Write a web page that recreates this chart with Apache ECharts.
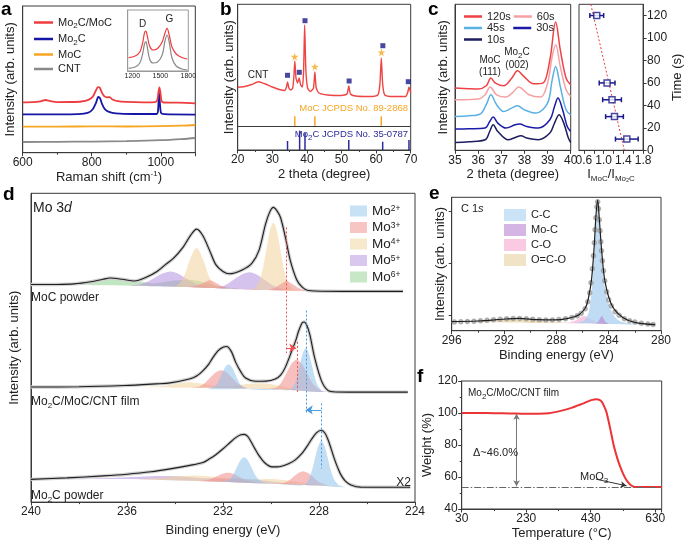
<!DOCTYPE html>
<html><head><meta charset="utf-8">
<script src="https://cdn.jsdelivr.net/npm/echarts@6/dist/echarts.min.js"></script>
<style>html,body{margin:0;padding:0;background:#fff}#c{width:685px;height:543px}</style>
</head><body><div id="c"></div><script>
// ---------------- DATA ----------------
// (a) Raman
const ramanMo2CMoC = [[600,50.4],[630,50.6],[652,51.4],[666,52.7],[680,51.5],[700,50.6],[740,50.7],[770,51.2],[790,52.8],[803,56],[811,61.5],[818,65.6],[823,65.2],[829,60.5],[836,56.5],[845,55.4],[852,55.6],[860,53.2],[875,51.5],[900,50.8],[950,50.4],[984,50.6],[990,53],[993,60],[996,65.4],[999,60],[1002,52],[1008,50.2],[1050,50],[1100,49.4]];
const ramanMo2C = [[600,38.4],[700,38.4],[760,38.6],[790,40],[803,43.5],[812,49.5],[819,55.7],[824,54.5],[830,48.5],[838,43.5],[850,40.8],[870,39.3],[920,38.7],[988,38.7],[992,42],[995,60.4],[998,47],[1001,39.5],[1010,38.5],[1100,38.1]];
const ramanMoC = [[600,26],[700,26.1],[800,26.3],[900,26.2],[1000,26.5],[1060,27],[1100,27.7]];
const ramanCNT = [[600,10.7],[700,10.9],[800,11.1],[900,11.6],[1000,12.5],[1060,13.6],[1100,14.7]];
const insetRed = [[1160,13.3],[1230,15],[1280,19],[1310,28],[1330,38],[1345,40],[1360,35],[1385,25],[1420,21],[1470,22.5],[1520,29],[1550,38],[1572,42.7],[1595,36],[1625,24],[1670,17],[1730,13.5],[1790,12]];
const insetGray = [[1160,2.7],[1230,4],[1280,8],[1310,17],[1330,27],[1345,29.3],[1360,24],[1385,12],[1420,8],[1470,9],[1520,16],[1550,30],[1572,36],[1595,29],[1625,13],[1670,5],[1730,2],[1790,1]];
// (b) XRD
const xrdCurve = [[20,62.7],[22,63.5],[24,65.5],[26,68.3],[28,66],[30,63],[32,60.5],[33.6,59.5],[34.1,63],[34.4,68],[34.8,62],[35.3,60],[35.9,62],[36.25,74],[36.5,89],[36.85,72],[37.3,67],[37.75,72],[38.2,65],[38.7,63],[39.05,80],[39.35,125],[39.7,80],[40.2,62],[41,58.5],[41.9,62],[42.3,78],[42.7,62],[43.5,57],[46,55],[50,54.5],[51.6,56],[52.1,64],[52.6,56],[54,54],[58,53.5],[60.5,55],[61.1,66],[61.5,92],[61.9,66],[62.5,55],[65,53.5],[68.5,53.5],[69.1,57],[69.5,63],[70,57]];
const xrdMo2CMarks = [[34.4,74.7],[37.8,77.7],[39.45,129.3],[52.2,69],[61.95,104.3],[69.3,68.3]];
const xrdMoCStars = [[36.47,93.3],[42.3,83.3],[61.55,97.7]];
const refMoC = [[36.5,24,33.7],[42.3,24,33.7],[61.5,24,33.7]];
const refMo2C = [[34.4,0,9],[37.9,0,19.3],[39.45,0,17.5],[52.1,0,10],[61.9,0,8.3],[69.5,0,10]];
// (c) in-situ XRD
const xrd120 = [[35,62.2],[35.6,61.5],[36.0,61.2],[36.35,64.5],[36.55,72.2],[36.75,67.2],[37.1,64.5],[37.45,72],[37.7,79.5],[37.95,74.5],[38.4,66.5],[38.8,67.2],[39.1,90.5],[39.35,128.2],[39.55,100.5],[39.8,72.2],[40,65.5]];
const xrd60 = [[35,50.5],[35.6,50.8],[36.0,51.2],[36.3,55.5],[36.52,63.2],[36.8,55.5],[37.2,53.2],[37.5,58],[37.75,63.2],[38.2,55.5],[38.7,53.2],[39.0,67.2],[39.2,93.8],[39.35,105.5],[39.55,83.8],[39.8,60.5],[40,53.8]];
const xrd45 = [[35,33.8],[35.6,34.5],[36.1,36.5],[36.38,47.2],[36.55,55.5],[36.8,45.5],[37.1,38.8],[37.45,42.2],[37.7,44.5],[38.0,40.5],[38.5,37.2],[39.0,47.2],[39.2,70.5],[39.35,83.8],[39.55,63.8],[39.8,40.5],[40,35.5]];
const xrd30 = [[35,21.2],[35.6,21.5],[36.3,22.2],[36.5,28.8],[36.65,33.2],[36.85,27.2],[37.2,22.2],[37.6,25.5],[37.8,26.2],[38.1,23.8],[38.6,22.2],[39.1,30.5],[39.3,43.8],[39.45,52.2],[39.65,40.5],[39.85,23.8],[40,18.8]];
const xrd10 = [[35,7.8],[35.6,8.5],[36.3,10.5],[36.5,18.8],[36.65,25.5],[36.85,18.8],[37.3,10.5],[37.6,12.8],[37.85,14.5],[38.1,12.2],[38.6,10.5],[39.1,17.2],[39.3,27.2],[39.5,35.5],[39.7,27.2],[39.9,12.2],[40,7.8]];
const ratioTime = [[0.86,120,0.14],[1.07,60,0.16],[1.17,45,0.19],[1.22,30,0.18],[1.47,10,0.23]];
const ratioFit = [[0.74,130],[1.42,0]];
// (d) Mo 3d XPS
const bgMoC = [[240,222.6],[237,222],[235,221],[233.5,220],[232,218.5],[230.5,217.2],[229.3,216.2],[228.5,215.8],[224.5,215.6]];
const envMoC = [[240,222.6],[239,222.7],[238.2,223.3],[237.5,225.5],[237.0,228],[236.7,229.3],[236.2,228],[235.7,226.2],[235.2,230],[234.75,236],[234.4,243],[234.07,249.3],[233.66,261],[233.35,273],[233.1,279.3],[232.85,273],[232.56,257.6],[232.3,243],[232.0,236],[231.74,233.6],[231.2,237.6],[230.8,244.3],[230.5,257.6],[230.23,284.3],[230.05,297],[229.9,301.6],[229.75,298],[229.6,291],[229.4,271],[229.2,247.6],[228.93,227.6],[228.7,220],[228.45,216.5],[227,215.6],[224.5,215.6]];
const moC_Mo4 = [[234.3,220.2],[234.1,220.4],[233.85,222.8],[233.6,232.5],[233.35,250],[233.1,260.3],[232.85,249.6],[232.6,232],[232.35,222],[232.1,219],[231.5,218],[230.9,217.6],[230.7,218.7],[230.5,225.5],[230.35,238],[230.2,257.5],[230.05,277.5],[229.9,286],[229.75,277],[229.6,257],[229.45,237.3],[229.3,224.8],[229.1,218.2],[228.9,216]];
const moC_Mo3 = [[233.5,220],[233.1,221.5],[232.8,224.5],[232.55,227],[232.3,224.5],[232.0,220.5],[231.6,218],[230.2,217],[229.9,218.5],[229.6,223],[229.35,226.2],[229.1,223],[228.8,218.5],[228.5,216]];
const moC_Mo5 = [[236.0,221.3],[235.7,221.9],[235.4,223.3],[235.1,226],[234.8,230.3],[234.5,234.1],[234.2,236],[233.9,234.1],[233.6,229.8],[233.3,225.5],[233.0,222.3],[232.7,220.3],[232.4,219.5],[232.1,220.3],[231.8,223.4],[231.5,228.5],[231.2,233.2],[230.9,235.3],[230.6,233],[230.3,228],[230.0,223],[229.7,219.5],[229.4,217]];
const moC_Mo6 = [[239,222.5],[238.4,223.2],[237.8,225],[237.2,227.5],[236.6,229.3],[236.0,228],[235.4,225.5],[234.9,224],[234.4,225.5],[233.9,227],[233.45,227.6],[233.0,226.2],[232.5,223],[231.9,219.8],[231.3,218]];
const bgFilm = [[240,117.8],[236,117.6],[233,117],[230.6,116],[229,114.5],[228.2,113],[227.5,112.6],[224.3,112.5]];
const envFilm = [[240,117.8],[238,118],[236.1,119.3],[234.8,121],[234.2,122],[233.4,126],[233.1,129],[232.84,134.3],[232.6,141],[232.43,147.6],[232.2,155],[232.0,158.5],[231.85,159.3],[231.65,154],[231.47,143],[231.25,133],[231.06,127],[230.65,123.6],[230.2,123.8],[229.82,126],[229.6,130],[229.41,137.6],[229.14,154.3],[228.96,166],[228.86,174.3],[228.7,183.5],[228.62,184.3],[228.5,180.5],[228.38,171],[228.18,147.6],[227.9,124.3],[227.63,114.3],[227.3,112.7],[226,112.5],[224.3,112.5]];
const film_Mo2 = [[232.6,115.8],[232.33,118.8],[232.19,123.5],[232.05,131],[231.91,137.9],[231.77,141],[231.63,137.9],[231.49,131],[231.35,123.5],[231.21,118.8],[230.9,115.6],[229.5,114.6],[229.25,114.4],[229.05,119.4],[228.925,127.6],[228.8,140.3],[228.675,152.2],[228.55,157.6],[228.425,152.2],[228.3,140.3],[228.175,127.6],[228.05,119.4],[227.85,113.8],[227.6,112.6]];
const film_Mo3 = [[233.3,116.6],[232.98,118.3],[232.755,121.9],[232.53,127.5],[232.305,132.7],[232.08,135],[231.855,132.7],[231.63,127.5],[231.405,121.9],[231.18,118.3],[230.9,116.3],[230.3,115.9],[230.03,116.3],[229.73,118.1],[229.53,124],[229.33,133.3],[229.13,142],[228.93,146],[228.73,142],[228.53,133.3],[228.33,124],[228.13,118.1],[227.85,113.5],[227.6,112.6]];
const film_Mo4 = [[235.2,117.6],[234.5,118.7],[233.9,121],[233.45,122.6],[233.0,121.5],[232.4,119.2],[231.7,118.4],[231.1,120.5],[230.6,121.6],[230.2,121.4],[229.6,118.8],[229.0,115.3],[228.5,113.5]];
const bgMo2C = [[240,23.3],[236.1,23.6],[233,21.5],[230.5,19.3],[228,17],[227.2,15.4],[224.2,15.3]];
const envMo2C = [[240,23.3],[238.5,24.8],[237,26.8],[236,28.5],[235,31],[234.2,34],[233.38,37.6],[232.84,40.5],[232.56,44.3],[232.3,48.5],[232.01,54.3],[231.75,60],[231.47,66],[231.25,69],[231.12,69.3],[230.98,67.5],[230.85,62.6],[230.68,55],[230.5,47.6],[230.25,40],[229.96,36],[229.6,36.5],[229.27,39.3],[229.0,43],[228.73,49.3],[228.5,57],[228.31,64.3],[228.1,71],[227.9,73.6],[227.75,70.5],[227.63,64.3],[227.5,55],[227.36,44.3],[227.2,34],[227.08,27.6],[226.9,21.5],[226.67,17.6],[226.26,15.3],[225,15.2],[224.2,15.2]];
const mo2C_Mo2 = [[232.1,20.9],[231.97,21.2],[231.72,23.3],[231.57,28.2],[231.42,35.8],[231.27,42.9],[231.12,46],[230.97,42.9],[230.82,35.8],[230.67,28.2],[230.52,23.3],[230.27,19.9],[229.5,18.3],[228.65,17.3],[228.45,22.3],[228.3,31.9],[228.17,44.6],[228.035,57],[227.9,62.6],[227.765,57],[227.63,44.6],[227.5,31.9],[227.35,22.3],[227.15,17],[226.9,15.4]];
const mo2C_Mo3 = [[233.0,21.5],[232.7,22.3],[232.475,23.9],[232.25,26.4],[232.025,28.9],[231.8,30],[231.575,28.9],[231.35,26.3],[231.125,23.5],[230.9,21.6],[230.6,19.8],[229.76,18.8],[229.46,19.8],[229.26,22.2],[229.06,26],[228.86,29.7],[228.66,31.6],[228.46,29.7],[228.26,25.9],[228.06,21.7],[227.86,19],[227.56,16.3],[227.2,15.4]];
const mo2C_Mo4 = [[235.5,23.4],[234.6,25],[233.8,26.6],[233.1,27.3],[232.4,26],[231.7,24],[231.0,23.3],[230.4,23.5],[229.9,23.6],[229.3,22],[228.6,19.3],[227.9,17.2],[227.3,15.5]];
const mo2C_Mo5 = [[238.5,23.5],[237.5,24.2],[236.5,25],[235.5,26],[234.5,26.6],[233.5,25.8],[232.6,24.3],[231.9,24],[231.3,24],[230.6,22.8],[229.8,20.5],[229,18.5],[228.2,17]];
const shiftRed = [[229.37,281,152.6],[228.9,164,111]];
const shiftBlue = [[228.52,196,91],[227.9,101,34.3]];
const arrowRed = [229.37,228.95,157.6];
const arrowBlue = [227.9,228.55,94.3];
// (e) C 1s XPS
const bgC1s = [[296,8],[290,7.8],[286.3,7.4],[284,6.8],[282,6.2],[280.4,5.8]];
const envC1s = [[296,9],[294,9.7],[291.9,11.7],[290.9,12.4],[289.4,11],[288.1,10.8],[287.1,12.4],[286.3,15.7],[285.8,22.4],[285.55,32.4],[285.3,52.4],[285.1,85.7],[284.97,115.7],[284.84,130.7],[284.72,112.4],[284.53,79],[284.28,49],[283.77,25.7],[283.0,14],[282.0,8.4],[280.46,6]];
const rawC1s = [[295.8,8.7],[295.3,8.9],[294.8,9.2],[294.3,9.5],[293.8,9.9],[293.3,10.4],[292.8,10.9],[292.3,11.4],[291.8,11.9],[291.3,12.2],[290.8,12.3],[290.3,12],[289.8,11.4],[289.3,11],[288.8,10.7],[288.3,10.8],[287.8,11.2],[287.3,12],[286.8,13.2],[286.4,15],[286.1,17.5],[285.8,22],[285.6,29],[285.45,38],[285.35,48],[285.25,62],[285.17,75],[285.1,88],[285.04,101],[284.98,113],[284.9,124],[284.84,129],[284.78,122],[284.72,111],[284.66,100],[284.6,89],[284.55,80],[284.48,70],[284.4,60],[284.3,50],[284.15,39],[284.0,31],[283.8,25],[283.5,19],[283.2,15.5],[282.8,12],[282.4,10],[282.0,8.8],[281.5,7.5],[281.0,6.6],[280.6,6.2]];
const c1s_CC = [[286.6,7.5],[286.0,9.5],[285.7,13],[285.5,20],[285.3,40],[285.1,75],[284.97,108],[284.84,126],[284.72,108],[284.53,72],[284.28,42],[284.0,27],[283.77,19],[283.4,12],[283.0,9],[282.0,7],[281.0,6]];
const c1s_MoC = [[285.0,7.1],[284.8,9],[284.65,12.5],[284.53,14.7],[284.4,12.5],[284.25,9],[284.0,7]];
const c1s_CO = [[287.5,7.5],[287.0,8.3],[286.5,10.5],[286.2,13],[285.9,14.7],[285.6,13.5],[285.3,11],[284.9,8.5],[284.5,7.1]];
const c1s_OCO = [[296,8.6],[294.5,9.3],[293,10.5],[292,11.2],[291,11.4],[290,11],[289,9.8],[288,8.7],[287,7.8]];
// (f) TGA
const tga = [[30,100],[80,100],[130,99.9],[180,99.7],[230,99.5],[270,99.5],[300,99.8],[340,101.5],[370,103.2],[391,104.8],[410,106.2],[422,107.3],[435,108.2],[447,108.6],[457,108.2],[465,106.8],[472,104],[478,101],[483,97],[488,92.5],[494,86.7],[501,80],[509,74],[517,68.8],[525,64.6],[532,61.3],[540,58.3],[548,56.2],[556,54.7],[563,54],[571,53.7],[600,53.8],[650,53.8]];
const residue = 53.7;
const deltaArrow = [200,99.5,54.2];
const moO3Arrow = [[447,58.6],[541,54.5]];

// ---------------- HELPERS ----------------
const F = '"Liberation Sans", Arial, Helvetica, sans-serif';
const AX = '#3a3a3a';
const RICH = {
  sub:{fontSize:8, verticalAlign:'bottom', lineHeight:15, fontFamily:F},
  sup:{fontSize:8, verticalAlign:'top', lineHeight:15, fontFamily:F},
  it:{fontStyle:'italic', fontFamily:F}
};
const plain = v => String(Math.round(v*1000)/1000);
function merge(a,b){const r=Object.assign({},a);for(const k in b){const v=b[k];if(v&&typeof v==='object'&&!Array.isArray(v)&&a[k]&&typeof a[k]==='object'&&!Array.isArray(a[k]))r[k]=merge(a[k],v);else r[k]=v;}return r;}
function xA(g,o){return merge({type:'value',gridIndex:g,position:'bottom',
  axisLine:{show:true,onZero:false,lineStyle:{color:AX,width:1}},
  axisTick:{show:true,length:3.5,lineStyle:{color:AX}},
  axisLabel:{show:true,fontSize:12,color:'#222',margin:4,fontFamily:F,formatter:plain},
  splitLine:{show:false},nameLocation:'middle',
  nameTextStyle:{fontSize:13,color:'#222',fontFamily:F,lineHeight:15,rich:RICH}},o);}
function yA(g,o){return merge({type:'value',gridIndex:g,
  axisLine:{show:true,onZero:false,lineStyle:{color:AX,width:1}},
  axisTick:{show:false},axisLabel:{show:false,formatter:plain},splitLine:{show:false},
  nameLocation:'middle',nameTextStyle:{fontSize:13,color:'#222',fontFamily:F}},o);}
function line(g,name,data,color,w,extra){return Object.assign({type:'line',name,xAxisIndex:g,yAxisIndex:g,data,
  smooth:0.35,showSymbol:false,symbol:'none',lineStyle:{color,width:w},itemStyle:{color},z:3,silent:true},extra||{});}
function area(g,name,top,base,color,op){
  const xs=top.map(p=>p[0]);const lo=Math.min(...xs),hi=Math.max(...xs);
  return {type:'custom',name,xAxisIndex:g,yAxisIndex:g,coordinateSystem:'cartesian2d',silent:true,z:2,
    itemStyle:{color,opacity:op},data:[[top[0][0],top[0][1]]],
    renderItem:(params,api)=>{
      const b=base.filter(p=>p[0]>lo&&p[0]<hi).sort((u,v)=>(u[0]-v[0])*(top[0][0]>top[top.length-1][0]?1:-1));
      const pts=top.map(p=>api.coord(p)).concat(b.map(p=>api.coord(p)));
      return {type:'polygon',shape:{points:pts,smooth:0.3},style:{fill:color,opacity:op}};
    }};
}
function sticks(g,data,color,w,extra){return Object.assign({type:'custom',xAxisIndex:g,yAxisIndex:g,coordinateSystem:'cartesian2d',silent:true,
  data,encode:{x:0,y:[1,2]},z:3,
  renderItem:(params,api)=>{const p0=api.coord([api.value(0),api.value(1)]),p1=api.coord([api.value(0),api.value(2)]);
    return {type:'line',shape:{x1:p0[0],y1:p0[1],x2:p1[0],y2:p1[1]},style:{stroke:color,lineWidth:w}};}},extra||{});}
function txt(x,y,text,o){return {type:'text',x,y,silent:true,z:50,style:Object.assign({text,fill:'#222',fontSize:12,fontFamily:F,align:'left',verticalAlign:'middle',rich:RICH},o||{})};}

// colours
const C = {red:'#ee3d3f',blue:'#1616a6',orange:'#f6a623',gray:'#8a8a8a',
  c120:'#ee4045',c60:'#f6a0a3',c45:'#5bb0e4',c30:'#1a1aa6',c10:'#1d1d60',
  mo2:'#8fc3ec',mo3:'#f28b8b',mo4:'#f0d49a',mo5:'#b48fe0',mo6:'#8fd08f',
  cc:'#a9d0f0',moc:'#b984d0',co:'#f5a6cf',oco:'#e8d0a0', navy:'#1a1a8a', xrdRed:'#ef4444'};
const STAR='path://M50,0 L61,35 L98,35 L68,57 L79,91 L50,70 L21,91 L32,57 L2,35 L39,35 Z';

// ---------------- GRIDS ----------------
const gridBox={show:true,borderColor:AX,borderWidth:1,containLabel:false};
const grids=[
  {left:22.7,top:6,width:172.6,height:146.7},
  {left:127.7,top:10,width:60.6,height:61,borderColor:'#999'},
  {left:237.7,top:4.3,width:173,height:145.7},
  {left:455,top:4.3,width:115.7,height:146},
  {left:579,top:4.3,width:77.7,height:146},
  {left:25.7,top:193.3,width:389.3,height:316},
  {left:451.7,top:197.3,width:209.3,height:133.4},
  {left:461.7,top:381,width:200,height:128}
].map(g=>Object.assign({},gridBox,g));

const xAxes=[
  xA(0,{min:600,max:1100,interval:200,minorTick:{show:true,splitNumber:2,length:2,lineStyle:{color:AX}},axisLabel:{showMaxLabel:false},name:'Raman shift (cm{sup|-1})',nameGap:17}),
  xA(1,{min:1150,max:1800,axisLine:{lineStyle:{color:'#999'}},axisTick:{show:false},axisLabel:{fontSize:7,margin:2,customValues:[1200,1500,1800]}}),
  xA(2,{min:20,max:70,interval:10,minorTick:{show:true,splitNumber:2,length:2,lineStyle:{color:AX}},name:'2 theta (degree)',nameGap:17}),
  xA(3,{min:35,max:40,interval:1,name:'2 theta (degree)',nameGap:17}),
  xA(4,{min:0.5,max:1.8,axisTick:{customValues:[0.6,0.8,1.0,1.2,1.4,1.6,1.8]},axisLabel:{customValues:[0.6,1.0,1.4,1.8],formatter:v=>v.toFixed(1)},
        name:'I{sub|MoC}/I{sub|Mo₂C}',nameGap:17}),
  xA(5,{min:224,max:240,interval:4,inverse:true,minorTick:{show:true,splitNumber:2,length:2,lineStyle:{color:AX}},name:'Binding energy (eV)',nameGap:17}),
  xA(6,{min:280,max:296,interval:4,inverse:true,minorTick:{show:true,splitNumber:2,length:2,lineStyle:{color:AX}},name:'Binding energy (eV)',nameGap:15}),
  xA(7,{min:30,max:650,interval:200,minorTick:{show:true,splitNumber:2,length:2,lineStyle:{color:AX}},name:'Temperature (°C)',nameGap:17})
];
const yAxes=[
  yA(0,{min:0,max:146.7,name:'Intensity (arb. units)',nameGap:6}),
  yA(1,{min:0,max:61,axisLine:{lineStyle:{color:'#999'}}}),
  yA(2,{min:0,max:145.7,name:'Intensity (arb. units)',nameGap:2}),
  yA(3,{min:0,max:146,name:'Intensity (arb. units)',nameGap:5}),
  yA(4,{min:0,max:130,interval:20,position:'right',axisTick:{show:true,length:3.5,lineStyle:{color:AX}},
        axisLabel:{show:true,fontSize:12,color:'#222',margin:4,fontFamily:F},name:'Time (s)',nameGap:24}),
  yA(5,{min:0,max:316,name:'Intensity (arb. units)',nameGap:10}),
  yA(6,{min:0,max:133.4,axisTick:{show:true,length:3,customValues:[15.8,67.4,119],lineStyle:{color:AX}},name:'Intensity (arb. units)',nameGap:5}),
  yA(7,{min:40,max:120,interval:20,axisTick:{show:true,length:3.5,lineStyle:{color:AX}},minorTick:{show:true,splitNumber:2,length:2,lineStyle:{color:AX}},
        axisLabel:{show:true,fontSize:12,color:'#222',margin:4,fontFamily:F},name:'Weight (%)',nameGap:24})
];

// ---------------- SERIES ----------------
const series=[];
// (a)
series.push(line(0,'CNT',ramanCNT,C.gray,1.8));
series.push(line(0,'MoC',ramanMoC,C.orange,1.8));
series.push(line(0,'Mo2C',ramanMo2C,C.blue,1.8,{smooth:0.25}));
series.push(line(0,'Mo2C/MoC',ramanMo2CMoC,C.red,1.8,{smooth:0.25}));
series.push(line(1,'insetGray',insetGray,C.gray,1.2));
series.push(line(1,'insetRed',insetRed,C.red,1.2));
// (b)
series.push(line(2,'xrd',xrdCurve,C.xrdRed,1.4,{smooth:0.2}));
series.push({type:'scatter',xAxisIndex:2,yAxisIndex:2,data:xrdMo2CMarks,symbol:'rect',symbolSize:5,itemStyle:{color:C.navy},silent:true,z:4});
series.push({type:'scatter',xAxisIndex:2,yAxisIndex:2,data:xrdMoCStars,symbol:STAR,symbolSize:8,itemStyle:{color:C.orange},silent:true,z:4});
series.push(sticks(2,refMoC,C.orange,1.5,{markLine:{silent:true,symbol:'none',label:{show:false},lineStyle:{color:AX,width:1,type:'solid'},data:[{yAxis:24}]}}));
series.push(sticks(2,refMo2C,'#2b2b9b',1.5));
// (c)
series.push(line(3,'10s',xrd10,C.c10,1.5));
series.push(line(3,'30s',xrd30,C.c30,1.5));
series.push(line(3,'45s',xrd45,C.c45,1.5));
series.push(line(3,'60s',xrd60,C.c60,1.5));
series.push(line(3,'120s',xrd120,C.c120,1.5));
series.push(line(4,'fit',ratioFit,C.red,1,{smooth:false,lineStyle:{color:C.red,width:1,type:[2,2]}}));
series.push({type:'custom',xAxisIndex:4,yAxisIndex:4,coordinateSystem:'cartesian2d',silent:true,data:ratioTime,encode:{x:0,y:1},z:4,
  renderItem:(params,api)=>{const x=api.value(0),y=api.value(1),e=api.value(2);
    const a=api.coord([x-e,y]),b=api.coord([x+e,y]);const h=2.5;
    return {type:'group',children:[
      {type:'line',shape:{x1:a[0],y1:a[1],x2:b[0],y2:b[1]},style:{stroke:C.navy,lineWidth:1.5}},
      {type:'line',shape:{x1:a[0],y1:a[1]-h,x2:a[0],y2:a[1]+h},style:{stroke:C.navy,lineWidth:1.5}},
      {type:'line',shape:{x1:b[0],y1:b[1]-h,x2:b[0],y2:b[1]+h},style:{stroke:C.navy,lineWidth:1.5}}]};}});
series.push({type:'scatter',xAxisIndex:4,yAxisIndex:4,data:ratioTime.map(p=>[p[0],p[1]]),symbol:'rect',symbolSize:6,
  itemStyle:{color:'#fff',borderColor:C.navy,borderWidth:1.5},silent:true,z:5});
// (d) components
const dSets=[
  [bgMoC,[['Mo6+',moC_Mo6,C.mo6],['Mo5+',moC_Mo5,C.mo5],['Mo4+',moC_Mo4,C.mo4],['Mo3+',moC_Mo3,C.mo3]]],
  [bgFilm,[['Mo4+',film_Mo4,C.mo4],['Mo3+',film_Mo3,C.mo3],['Mo2+',film_Mo2,C.mo2]]],
  [bgMo2C,[['Mo5+',mo2C_Mo5,C.mo5],['Mo4+',mo2C_Mo4,C.mo4],['Mo3+',mo2C_Mo3,C.mo3],['Mo2+',mo2C_Mo2,C.mo2]]]
];
dSets.forEach(([bg,comps])=>comps.forEach(([n,d,c])=>series.push(area(5,n,d,bg,c,0.55))));
[envMoC,envFilm,envMo2C].forEach((env,i)=>{
  series.push(line(5,'raw'+i,env,'#cfcfcf',3.4,{smooth:0.3,z:3}));
  series.push(line(5,'env'+i,env,'#1e1e1e',1.1,{smooth:0.3,z:4}));
});
// (d) shift guide lines and arrows
const dML={silent:true,label:{show:false},symbol:'none',data:[]};
shiftRed.forEach(s=>dML.data.push([{coord:[s[0],s[1]],lineStyle:{color:'#f05050',type:[2,2],width:1}},{coord:[s[0],s[2]]}]));
shiftBlue.forEach(s=>dML.data.push([{coord:[s[0],s[1]],lineStyle:{color:'#4a9be0',type:[2,2],width:1}},{coord:[s[0],s[2]]}]));
dML.data.push([{coord:[arrowRed[0],arrowRed[2]],symbol:'none',lineStyle:{color:'#f05050',type:'solid',width:1}},{coord:[arrowRed[1],arrowRed[2]],symbol:'arrow',symbolSize:[7,7]}]);
dML.data.push([{coord:[arrowBlue[0],arrowBlue[2]],symbol:'none',lineStyle:{color:'#4a9be0',type:'solid',width:1}},{coord:[arrowBlue[1],arrowBlue[2]],symbol:'arrow',symbolSize:[7,7]}]);
series.push({type:'line',xAxisIndex:5,yAxisIndex:5,data:[],silent:true,markLine:dML,z:6});
// (e)
series.push(area(6,'O=C-O',c1s_OCO,bgC1s,C.oco,0.7));
series.push(area(6,'C-O',c1s_CO,bgC1s,C.co,0.6));
series.push(area(6,'C-C',c1s_CC,bgC1s,C.cc,0.75));
series.push(area(6,'Mo-C',c1s_MoC,bgC1s,C.moc,0.6));
series.push({type:'scatter',xAxisIndex:6,yAxisIndex:6,data:rawC1s,symbol:'emptyCircle',symbolSize:3.5,
  itemStyle:{color:'#9a9a9a',borderColor:'#9a9a9a',borderWidth:0.8},silent:true,z:3});
series.push(line(6,'envC',envC1s,'#1e1e1e',1.2,{smooth:0.3,z:4}));
// (f)
series.push(line(7,'tga',tga,'#ec3336',2,{smooth:0.3,z:4,markLine:{silent:true,label:{show:false},symbol:'none',data:[
  [{coord:[30,residue],lineStyle:{color:'#666',type:[7,2,1.5,2],width:1}},{coord:[650,residue]}],
  [{coord:[deltaArrow[0],deltaArrow[1]],symbol:'arrow',symbolSize:[5,6],lineStyle:{color:'#777',type:'solid',width:1}},{coord:[deltaArrow[0],deltaArrow[2]],symbol:'arrow',symbolSize:[5,6]}],
  [{coord:moO3Arrow[0],symbol:'none',lineStyle:{color:'#333',type:'solid',width:1}},{coord:moO3Arrow[1],symbol:'arrow',symbolSize:[5,6]}]
]}}));

// ---------------- LEGENDS ----------------
const lgText={fontSize:11,color:'#222',fontFamily:F,lineHeight:13,rich:RICH};
const legends=[
  {left:29,top:10,orient:'vertical',itemGap:1.5,itemWidth:19,itemHeight:2.5,icon:'rect',selectedMode:false,textStyle:lgText,
   formatter:n=>n.replace('Mo2C','Mo{sub|2}C'),data:['Mo2C/MoC','Mo2C','MoC','CNT']},
  {left:459,top:5,orient:'horizontal',itemGap:3,itemWidth:18,itemHeight:2.5,icon:'rect',selectedMode:false,textStyle:lgText,data:['120s','60s']},
  {left:459,top:16.5,orient:'horizontal',itemGap:8.5,itemWidth:18,itemHeight:2.5,icon:'rect',selectedMode:false,textStyle:lgText,data:['45s','30s']},
  {left:459,top:28,orient:'horizontal',itemWidth:18,itemHeight:2.5,icon:'rect',selectedMode:false,textStyle:lgText,data:['10s']},
  {left:345,top:199,orient:'vertical',itemGap:2.5,itemWidth:17,itemHeight:11,icon:'rect',selectedMode:false,
   textStyle:{fontSize:13.5,color:'#222',fontFamily:F,lineHeight:13,rich:{sup:{fontSize:8.5,verticalAlign:'top',lineHeight:13,fontFamily:F}}},
   formatter:n=>'Mo{sup|'+n.slice(2)+'}',
   data:[['Mo2+',C.mo2],['Mo3+',C.mo3],['Mo4+',C.mo4],['Mo5+',C.mo5],['Mo6+',C.mo6]].map(([n,c])=>({name:n,itemStyle:{color:c,opacity:0.5}}))},
  {left:499,top:204,orient:'vertical',itemGap:3,itemWidth:22,itemHeight:12,icon:'rect',selectedMode:false,textStyle:{fontSize:11,color:'#222',fontFamily:F,lineHeight:12},
   data:[['C-C',C.cc],['Mo-C',C.moc],['C-O',C.co],['O=C-O',C.oco]].map(([n,c])=>({name:n,itemStyle:{color:c,opacity:0.6}}))}
];

// ---------------- TEXT ----------------
const graphic=[
  txt(1,10,'a',{fontSize:19,fontWeight:'bold',fill:'#000'}),
  txt(220,10,'b',{fontSize:19,fontWeight:'bold',fill:'#000'}),
  txt(428,10,'c',{fontSize:19,fontWeight:'bold',fill:'#000'}),
  txt(3,195,'d',{fontSize:19,fontWeight:'bold',fill:'#000'}),
  txt(429,194,'e',{fontSize:19,fontWeight:'bold',fill:'#000'}),
  txt(417,377,'f',{fontSize:19,fontWeight:'bold',fill:'#000'}),
  txt(142.7,24,'D',{fontSize:10,align:'center'}),
  txt(169.3,19,'G',{fontSize:10,align:'center'}),
  txt(258,75,'CNT',{fontSize:10,align:'center'}),
  txt(408,108,'MoC JCPDS No. 89-2868',{fontSize:9.5,align:'right',fill:C.orange}),
  txt(408,134,'Mo{sub|2}C JCPDS No. 35-0787',{fontSize:9.5,align:'right',fill:'#2b2b9b'}),
  txt(490,60,'MoC',{fontSize:10,align:'center'}),
  txt(490,72,'(111)',{fontSize:10,align:'center'}),
  txt(517,52,'Mo{sub|2}C',{fontSize:10,align:'center'}),
  txt(517,65,'(002)',{fontSize:10,align:'center'}),
  txt(33,208,'Mo 3{it|d}',{fontSize:14,rich:{it:{fontStyle:'italic',fontSize:14,fontFamily:F}}}),
  txt(31,297.5,'MoC powder',{fontSize:12}),
  txt(31,402,'Mo{sub|2}C/MoC/CNT film',{fontSize:12}),
  txt(31,496,'Mo{sub|2}C powder',{fontSize:12}),
  txt(411,483,'X2',{fontSize:12,align:'right'}),
  txt(461,209,'C 1{it|s}',{fontSize:11,rich:{it:{fontStyle:'italic',fontSize:11,fontFamily:F}}}),
  txt(468,393,'Mo{sub|2}C/MoC/CNT film',{fontSize:10}),
  txt(473,453,'Δ~46.0%',{fontSize:11}),
  txt(580,477,'MoO{sub|3}',{fontSize:11})
];

const chart=echarts.init(document.getElementById('c'),null,{renderer:'canvas'});
chart.setOption({animation:false,backgroundColor:'#fff',textStyle:{fontFamily:F},
  grid:grids,xAxis:xAxes,yAxis:yAxes,series,legend:legends,graphic});
</script></body></html>
